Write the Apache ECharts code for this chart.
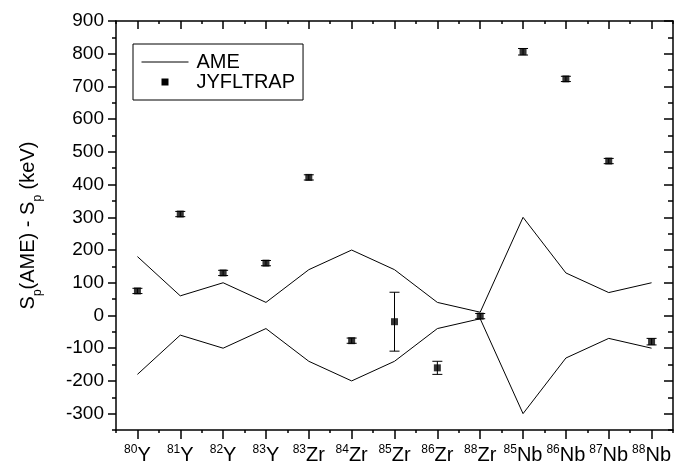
<!DOCTYPE html>
<html>
<head>
<meta charset="utf-8">
<script src="https://cdn.jsdelivr.net/npm/echarts@6/dist/echarts.min.js"></script>
<style>
  html, body { margin: 0; padding: 0; background: #fff; }
  #chart { width: 690px; height: 465px; }
</style>
</head>
<body>
<div id="chart"></div>
<script>
// nuclides on the x axis: mass number + element
const massNumbers = ['80', '81', '82', '83', '83', '84', '85', '86', '88', '85', '86', '87', '88']
const elements = ['Y', 'Y', 'Y', 'Y', 'Zr', 'Zr', 'Zr', 'Zr', 'Zr', 'Nb', 'Nb', 'Nb', 'Nb']
const categories = massNumbers.map((m, i) => m + elements[i])

// AME uncertainty band (keV), drawn as +/- lines
const ameBand = [180, 60, 100, 40, 140, 200, 140, 40, 10, 300, 130, 70, 100]
// JYFLTRAP differences and their errors (keV)
const jyfltrap = [75, 310, 130, 160, 422, -77, -19, -160, -2, 806, 723, 472, -80]
const jyfltrapErr = [8, 8, 8, 8, 8, 8, 90, 20, 8, 10, 8, 8, 10]

const yTicks = [-300, -200, -100, 0, 100, 200, 300, 400, 500, 600, 700, 800, 900]

const black = '#000'
const font = 'Liberation Sans, Arial, sans-serif'

const chart = echarts.init(document.getElementById('chart'))

const xBase = {
  type: 'category',
  data: categories,
  boundaryGap: true,
  axisLine: { show: false, onZero: false },
  axisLabel: { show: false },
  splitLine: { show: false }
}
const yBase = {
  type: 'value',
  min: -350,
  max: 900,
  interval: 50,
  axisLine: { show: false },
  axisLabel: { show: false },
  splitLine: { show: false }
}

const option = {
  animation: false,
  grid: { left: 116, right: 17, top: 21, bottom: 33 },
  legend: {
    left: 133,
    top: 44,
    orient: 'vertical',
    padding: [8, 8, 8, 8],
    itemGap: 0,
    itemWidth: 47,
    itemHeight: 7,
    borderColor: black,
    borderWidth: 1,
    symbolKeepAspect: true,
    textStyle: { fontFamily: font, fontSize: 20, color: black, padding: [0, 0, 0, 3] },
    data: [
      { name: 'AME', itemStyle: { opacity: 0 }, lineStyle: { width: 1 } },
      { name: 'JYFLTRAP', icon: 'path://M0,0L10,0L10,10L0,10Z' }
    ]
  },
  xAxis: [
    {
      ...xBase,
      position: 'bottom',
      axisLine: { show: true, onZero: false, lineStyle: { color: black, width: 1.5 } },
      axisTick: { show: true, alignWithLabel: true, inside: false, length: 9, lineStyle: { color: black, width: 1.5 } },
      axisLabel: {
        show: true,
        interval: 0,
        margin: 14,
        formatter: (v, i) => '{sup|' + massNumbers[i] + '}{el|' + elements[i] + '}',
        rich: {
          sup: { fontFamily: font, fontSize: 12, color: black, verticalAlign: 'top', lineHeight: 22 },
          el: { fontFamily: font, fontSize: 20, color: black, lineHeight: 22 }
        }
      }
    },
    {
      ...xBase,
      position: 'bottom',
      axisTick: { show: true, inside: false, length: 3, lineStyle: { color: black, width: 1.5 } }
    },
    {
      ...xBase,
      position: 'top',
      axisLine: { show: true, onZero: false, lineStyle: { color: black, width: 1.5 } },
      axisTick: { show: true, alignWithLabel: true, inside: true, length: 8, lineStyle: { color: black, width: 1.5 } }
    },
    {
      ...xBase,
      position: 'top',
      axisTick: { show: true, inside: true, length: 3, lineStyle: { color: black, width: 1.5 } }
    }
  ],
  yAxis: [
    {
      ...yBase,
      position: 'left',
      name: 'S{sub|p}(AME) - S{sub|p} (keV)',
      nameLocation: 'middle',
      nameGap: 78,
      nameTextStyle: {
        fontFamily: font,
        fontSize: 20,
        color: black,
        rich: { sub: { fontFamily: font, fontSize: 12, color: black, verticalAlign: 'bottom', padding: [0, 0, -6, 0] } }
      },
      axisLine: { show: true, lineStyle: { color: black, width: 1.5 } },
      axisTick: { show: true, inside: false, length: 8, customValues: yTicks, lineStyle: { color: black, width: 1.5 } },
      axisLabel: { show: true, margin: 12, customValues: yTicks, fontFamily: font, fontSize: 19, color: black }
    },
    {
      ...yBase,
      position: 'left',
      axisTick: { show: true, inside: false, length: 4, lineStyle: { color: black, width: 1.5 } }
    },
    {
      ...yBase,
      position: 'right',
      axisLine: { show: true, lineStyle: { color: black, width: 1.5 } },
      axisTick: { show: true, inside: true, length: 9, customValues: yTicks, lineStyle: { color: black, width: 1.5 } }
    },
    {
      ...yBase,
      position: 'right',
      axisTick: { show: true, inside: true, length: 5, lineStyle: { color: black, width: 1.5 } }
    }
  ],
  series: [
    {
      name: 'AME',
      type: 'line',
      data: ameBand,
      symbol: 'none',
      lineStyle: { color: black, width: 1 },
      itemStyle: { color: black }
    },
    {
      name: 'AME',
      type: 'line',
      data: ameBand.map(v => -v),
      symbol: 'none',
      lineStyle: { color: black, width: 1 },
      itemStyle: { color: black }
    },
    {
      name: 'JYFLTRAP',
      type: 'custom',
      data: jyfltrap.map((v, i) => [i, v - jyfltrapErr[i], v + jyfltrapErr[i]]),
      renderItem(params, api) {
        const lo = api.coord([api.value(0), api.value(1)])
        const hi = api.coord([api.value(0), api.value(2)])
        const cap = 5
        const style = { stroke: black, lineWidth: 1 }
        return {
          type: 'group',
          children: [
            { type: 'line', shape: { x1: lo[0], y1: lo[1], x2: hi[0], y2: hi[1] }, style },
            { type: 'line', shape: { x1: lo[0] - cap, y1: lo[1], x2: lo[0] + cap, y2: lo[1] }, style },
            { type: 'line', shape: { x1: hi[0] - cap, y1: hi[1], x2: hi[0] + cap, y2: hi[1] }, style }
          ]
        }
      },
      itemStyle: { color: black },
      z: 3
    },
    {
      name: 'JYFLTRAP',
      type: 'scatter',
      data: jyfltrap,
      symbol: 'rect',
      symbolSize: 7,
      itemStyle: { color: black },
      z: 4
    }
  ]
}

chart.setOption(option)
</script>
</body>
</html>
